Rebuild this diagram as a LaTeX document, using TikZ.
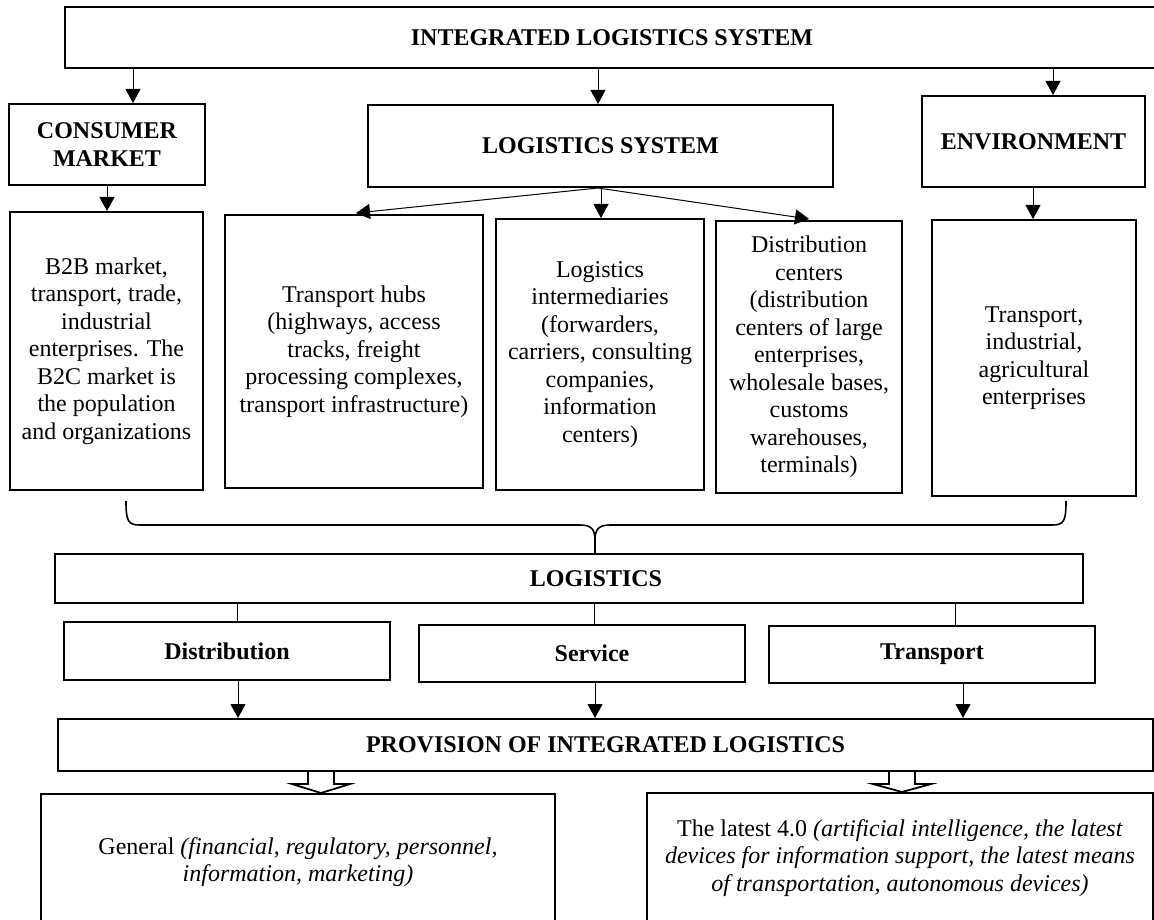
\documentclass[tikz,border=0pt]{standalone}
\usepackage{fontspec}
\setmainfont{Liberation Serif}
\usetikzlibrary{arrows.meta,calc}
\begin{document}
\begin{tikzpicture}[x=0.5pt,y=-0.5pt,
  box/.style={draw,line width=1pt,inner sep=0pt,align=center,
    font=\fontsize{12}{13.75}\selectfont},
  bbox/.style={box,font=\fontsize{12}{13.75}\selectfont\bfseries},
  lbl/.style={inner sep=0pt,align=center,font=\fontsize{12}{13.75}\selectfont\bfseries},
  arr/.style={line width=0.5pt,-{Triangle[length=7pt,width=7.5pt]}},
  tick/.style={line width=0.45pt},
  brace/.style={line width=0.8pt},
  hollow/.style={line width=0.9pt,fill=white}]
\useasboundingbox (0,0) rectangle (1154,919);
\clip (0,0) rectangle (1154,919);
% top
\node[bbox,minimum width=547pt,minimum height=30.5pt] (ils) at (612,37.5) {INTEGRATED LOGISTICS SYSTEM};
\node[bbox,minimum width=98pt,minimum height=40.5pt] (cm) at (107,144.5) {CONSUMER\\MARKET};
\node[bbox,minimum width=232.5pt,minimum height=41pt] (ls) at (600.5,146) {LOGISTICS SYSTEM};
\node[bbox,minimum width=111.5pt,minimum height=45.5pt] (env) at (1033.5,141.5) {ENVIRONMENT};
% content boxes
\node[box,minimum width=96.5pt,minimum height=139pt] (b2b) at (106.5,351) {B2B market,\\transport, trade,\\industrial\\enterprises. The\\B2C market is\\the population\\and organizations};
\node[box,minimum width=129pt,minimum height=136.5pt] (th) at (354,351.5) {Transport hubs\\(highways, access\\tracks, freight\\processing complexes,\\transport infrastructure)};
\node[box,minimum width=104pt,minimum height=135.5pt] (li) at (600,354.5) {Logistics\\intermediaries\\(forwarders,\\carriers, consulting\\companies,\\information\\centers)};
\node[box,minimum width=93pt,minimum height=136pt] (dc) at (809,357) {Distribution\\centers\\(distribution\\centers of large\\enterprises,\\wholesale bases,\\customs\\warehouses,\\terminals)};
\node[box,minimum width=102pt,minimum height=138pt] (ent) at (1034,358) {Transport,\\industrial,\\agricultural\\enterprises};
% logistics
\node[box,minimum width=514pt,minimum height=24.5pt] (log) at (569,578.5) {};
\node[lbl] (logt) at (596,578.5) {LOGISTICS};
\node[bbox,minimum width=163pt,minimum height=29pt] (dis) at (227,651) {Distribution};
\node[box,minimum width=163pt,minimum height=28.5pt] (ser) at (582,653.5) {};
\node[lbl] (sert) at (592,653.5) {Service};
\node[bbox,minimum width=163pt,minimum height=28.5pt] (tra) at (932,654.5) {Transport};
\node[bbox,minimum width=547.5pt,minimum height=26pt] (prov) at (605.5,745) {PROVISION OF INTEGRATED LOGISTICS};
\node[box,minimum width=257pt,minimum height=68pt] (gen) at (298,862) {General \textit{(financial, regulatory, personnel,}\\\textit{information, marketing)}};
\node[box,minimum width=253pt,minimum height=65pt] (lat) at (900,858) {The latest 4.0 \textit{(artificial intelligence, the latest}\\\textit{devices for information support, the latest means}\\\textit{of transportation, autonomous devices)}};
% guide coordinates
\coordinate (x133) at (133,0);
\coordinate (x598) at (598,0);
\coordinate (x601) at (601,0);
\coordinate (x1053) at (1053,0);
\coordinate (x107) at (107,0);
\coordinate (x356) at (356,0);
\coordinate (x809) at (809,0);
\coordinate (x1033) at (1033,0);
\coordinate (x237) at (237,0);
\coordinate (x594) at (594,0);
\coordinate (x955) at (955,0);
\coordinate (x238) at (238,0);
\coordinate (x595) at (595,0);
\coordinate (x963) at (963,0);
\coordinate (h1) at (321,0);
\coordinate (h2) at (902,0);
% arrows
\draw[arr] (ils.south -| x133) -- (cm.north -| x133);
\draw[arr] (ils.south -| x598) -- (ls.north -| x598);
\draw[arr] (ils.south -| x1053) -- (env.north -| x1053);
\draw[arr] (cm.south -| x107) -- (b2b.north -| x107);
\draw[arr] (ls.south -| x598) -- ($(th.north -| x356)+(0,-1)$);
\draw[arr] (ls.south -| x601) -- (li.north -| x601);
\draw[arr] (ls.south -| x598) -- ($(dc.north -| x809)+(0,-1)$);
\draw[arr] (env.south -| x1033) -- (ent.north -| x1033);
% brace
\draw[brace] ($(b2b.south)+(19.5,10)$) .. controls +(0,20) and (128,525) .. (140,525) -- (580,525)
  .. controls (591,525) and (595,529) .. (595,540) -- (log.north -| x595);
\draw[brace] ($(ent.south)+(32,4)$) .. controls +(0,20) and (1064,525) .. (1052,525) -- (610,525)
  .. controls (599,525) and (595,529) .. (595,540);
% ticks
\draw[tick] (log.south -| x237) -- (dis.north -| x237);
\draw[tick] (log.south -| x594) -- (ser.north -| x594);
\draw[tick] (log.south -| x955) -- (tra.north -| x955);
\draw[arr] (dis.south -| x238) -- (prov.north -| x238);
\draw[arr] (ser.south -| x595) -- (prov.north -| x595);
\draw[arr] (tra.south -| x963) -- (prov.north -| x963);
% hollow arrows
\draw[hollow] ($(prov.south -| h1)+(-13,0)$) -- ($(prov.south -| h1)+(-13,12)$) -- ($(prov.south -| h1)+(-29,12)$)
  -- (gen.north -| h1) -- ($(prov.south -| h1)+(29,12)$) -- ($(prov.south -| h1)+(13,12)$) -- ($(prov.south -| h1)+(13,0)$);
\draw[hollow] ($(prov.south -| h2)+(-13,0)$) -- ($(prov.south -| h2)+(-13,12)$) -- ($(prov.south -| h2)+(-29,12)$)
  -- (lat.north -| h2) -- ($(prov.south -| h2)+(29,12)$) -- ($(prov.south -| h2)+(13,12)$) -- ($(prov.south -| h2)+(13,0)$);
\end{tikzpicture}
\end{document}
